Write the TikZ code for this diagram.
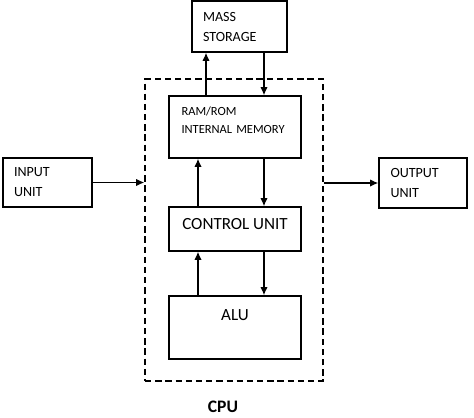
\documentclass[tikz,border=0pt]{standalone}
\usepackage{fontspec}
\setmainfont{Carlito}
\usepackage{tikz}
\usetikzlibrary{shapes.geometric, arrows, arrows.meta}
\tikzstyle{unitbox} = [rectangle, draw=black, line width=0.8pt, inner xsep=0.22cm, align=left, font=\fontsize{8}{11.4}\selectfont]
\tikzstyle{cpubox} = [rectangle, minimum width=2.64cm, draw=black, line width=0.8pt, align=center, font=\fontsize{9.7}{11}\selectfont]
\tikzstyle{arrow} = [line width=0.8pt,-{Latex[length=4.6pt,width=4.2pt]}]

\begin{document}
\begin{tikzpicture}[x=0.02cm, y=-0.02cm, node distance=2cm]
    \useasboundingbox (0,0) rectangle (474,417);
    \node (cpu) [rectangle, draw=black, line width=0.8pt, dash pattern=on 3.6pt off 2.2pt, minimum width=3.56cm, minimum height=6.04cm] at (234,230) {};
    \node (mass) [unitbox, minimum width=1.9cm, minimum height=1.02cm, text width=1.46cm] at (239.5,26.5) {MASS\\STORAGE};
    \node (ram) [unitbox, minimum width=2.64cm, minimum height=1.24cm, text width=2.14cm, inner xsep=0.25cm, font=\fontsize{7.1}{10.2}\selectfont] at (235,127) {RAM/ROM\\INTERNAL MEMORY\\[-2pt]~};
    \node (control) [cpubox, minimum height=0.88cm, below of=ram, yshift=-0.04cm] {CONTROL UNIT\\[-5.5pt]~};
    \node (alu) [cpubox, minimum height=1.26cm, below of=control, yshift=0.03cm] {ALU\\[3pt]~};
    \node (input) [unitbox, minimum width=1.78cm, minimum height=0.98cm, text width=1.34cm] at (47.5,182.5) {INPUT\\UNIT};
    \node (output) [unitbox, minimum width=1.76cm, minimum height=1.0cm, text width=1.3cm, inner xsep=0.23cm] at (423,183) {OUTPUT\\UNIT};
    \node (cpulabel) [font=\fontsize{10}{11}\selectfont\bfseries] at (223,407) {CPU};

    \draw [arrow] ([xshift=-0.58cm]ram.north) -- ([xshift=-0.58cm]ram.north |- mass.south);
    \draw [arrow] ([xshift=0.58cm]ram.north |- mass.south) -- ([xshift=0.58cm]ram.north);
    \draw [arrow] ([xshift=-0.74cm]control.north) -- ([xshift=-0.74cm]ram.south);
    \draw [arrow] ([xshift=0.58cm]ram.south) -- ([xshift=0.58cm]control.north);
    \draw [arrow] ([xshift=-0.74cm]alu.north) -- ([xshift=-0.74cm]control.south);
    \draw [arrow] ([xshift=0.58cm]control.south) -- ([xshift=0.58cm]alu.north);
    \draw [arrow] (input.east) -- (input.east -| cpu.west);
    \draw [arrow] (output.west -| cpu.east) -- (output.west);
\end{tikzpicture}
\end{document}
